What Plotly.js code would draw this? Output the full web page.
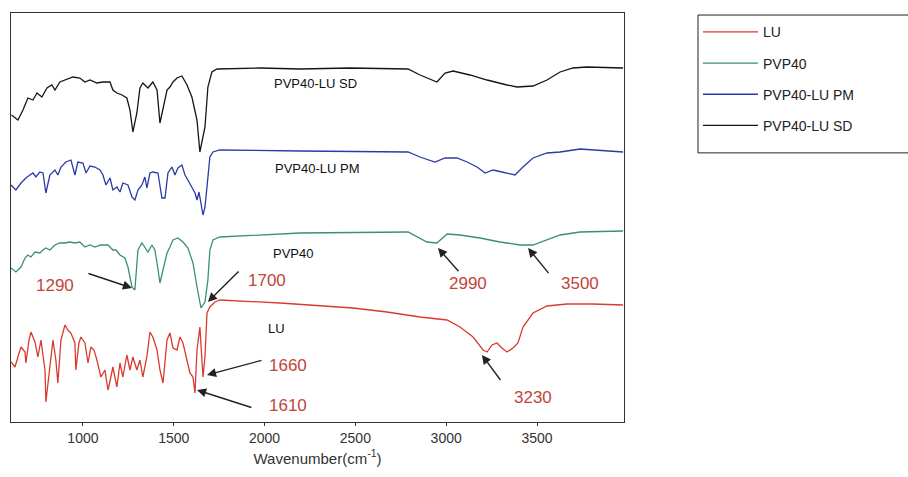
<!DOCTYPE html>
<html>
<head>
<meta charset="utf-8">
<script src="https://cdn.plot.ly/plotly-3.0.1.min.js"></script>
<style>html,body{margin:0;padding:0;background:#fff;}#chart{width:908px;height:477px;}</style>
</head>
<body>
<div id="chart"></div>
<script>
// Wavenumber (cm-1) and offset transmittance (a.u.)
const luX = [604,626,642,659,681,686,703,714,736,752,769,791,796,818,835,851,862,879,901,917,934,956,961,978,989,1011,1028,1044,1061,1077,1099,1121,1138,1154,1165,1187,1204,1220,1242,1259,1275,1297,1314,1330,1352,1369,1385,1408,1424,1441,1463,1479,1496,1518,1534,1551,1573,1589,1606,1617,1628,1644,1661,1672,1683,1699,1727,1754,2085,2305,2487,2674,2856,3005,3076,3148,3203,3225,3252,3280,3307,3335,3368,3395,3423,3478,3555,3665,3808,3974];
const luY = [60,55,65,75,70,59,82,90,80,65,82,52,20,52,82,62,39,82,97,92,89,79,52,79,85,79,59,75,72,62,45,52,32,45,55,35,59,45,67,52,65,52,62,45,65,90,85,72,52,39,82,89,74,72,85,79,62,49,45,29,72,95,45,65,109,115,120,122,119,116,114,110,105,102,95,85,72,70,77,79,74,70,74,79,95,109,116,118,118,117];

const pvpX = [604,631,659,681,697,714,736,763,780,796,818,846,873,901,928,956,983,1011,1039,1066,1099,1138,1165,1182,1204,1231,1248,1270,1286,1303,1325,1341,1358,1380,1396,1408,1424,1441,1463,1479,1496,1523,1551,1578,1606,1628,1650,1672,1688,1699,1716,1754,2195,2790,2839,2894,2949,2977,3005,3076,3186,3296,3407,3478,3555,3627,3737,3974];
const pvpY = [154,150,155,164,167,165,170,169,172,174,172,177,179,179,180,179,180,175,177,175,177,177,172,172,167,164,155,135,132,172,179,175,170,177,172,159,139,152,169,175,182,184,180,174,159,135,114,120,142,172,182,185,189,190,185,180,179,184,188,187,184,180,177,177,182,187,190,191];

const pmX = [604,631,659,686,708,725,741,763,780,796,818,846,862,879,906,934,956,972,1000,1017,1039,1066,1094,1110,1127,1149,1165,1187,1204,1220,1248,1270,1286,1303,1325,1341,1352,1369,1385,1413,1435,1452,1468,1490,1507,1523,1545,1562,1578,1600,1617,1628,1639,1661,1672,1683,1699,1716,1754,2195,2790,2856,2938,2994,3060,3115,3170,3214,3258,3307,3379,3423,3478,3555,3627,3737,3974];
const pmY = [237,232,239,244,247,249,245,250,249,229,247,252,247,255,260,262,247,260,259,249,256,255,252,247,237,244,232,235,230,239,237,225,222,232,237,245,234,249,250,249,224,224,249,255,247,254,257,247,242,235,229,222,230,207,215,235,265,270,272,271,270,265,260,264,264,260,255,249,252,250,247,255,264,269,270,273,270];

const sdX = [607,642,670,697,725,747,774,802,829,846,873,912,945,983,1011,1039,1077,1110,1149,1165,1187,1215,1242,1259,1275,1297,1314,1330,1358,1385,1408,1424,1441,1463,1479,1496,1518,1545,1573,1600,1628,1644,1672,1688,1710,1738,1975,2195,2470,2790,2856,2949,2994,3038,3131,3225,3335,3390,3478,3555,3627,3698,3775,3974];
const sdY = [307,302,312,324,322,329,325,334,337,332,340,343,345,344,340,342,339,340,340,332,329,327,324,312,290,309,334,339,334,340,332,299,312,332,335,340,344,346,337,325,302,270,295,335,350,353,354,353,354,353,347,340,349,351,347,342,337,335,336,342,350,354,355,354];

const seriesNames = ['LU','PVP40','PVP40-LU PM','PVP40-LU SD'];
const seriesColors = ['#d93a2e','#3a8f74','#2b3aa8','#151515'];
const xTicks = [1000,1500,2000,2500,3000,3500];

// Peak labels: text, arrow head, arrow tail, label position
const peakText = ['1290','1700','1660','1610','2990','3500','3230'];
const peakHeadX = [1270,1688,1683,1628,2955,3451,3197];
const peakHeadY = [134,120,47,32,174,174,67];
const peakTailX = [1022,1865,1991,1936,3076,3572,3307];
const peakTailY = [149,152,62,14,149,147,40];
const peakLabelX = [846,2013,2129,2129,3120,3737,3478];
const peakLabelY = [137,142,57,17,139,139,25];

const nameLabelText = ['PVP40-LU SD','PVP40-LU PM','PVP40','LU'];
const nameLabelX = [2283,2289,2156,2068];
const nameLabelY = [339,254,169,94];

const xs = [luX,pvpX,pmX,sdX], ys = [luY,pvpY,pmY,sdY];
const traces = xs.map((x,i)=>({
  x:x, y:ys[i], type:'scatter', mode:'lines', name:seriesNames[i],
  legendgroup:'g'+i,
  line:{color:seriesColors[i], width:1.3}
}));

const annotations = [];
peakText.forEach((t,i)=>{
  annotations.push({x:peakHeadX[i], y:peakHeadY[i], xref:'x', yref:'y',
    ax:peakTailX[i], ay:peakTailY[i], axref:'x', ayref:'y',
    text:' ', font:{size:1}, showarrow:true, arrowhead:2, arrowsize:1.3, arrowwidth:1.4, arrowcolor:'#222'});
  annotations.push({x:peakLabelX[i], y:peakLabelY[i], xref:'x', yref:'y', text:t, showarrow:false,
    font:{family:'Arial, Liberation Sans, sans-serif', size:17, color:'#c0463a'}});
});
nameLabelText.forEach((t,i)=>{
  annotations.push({x:nameLabelX[i], y:nameLabelY[i], xref:'x', yref:'y', text:t, showarrow:false,
    font:{family:'Arial, Liberation Sans, sans-serif', size:13, color:'#111'}});
});

const layout = {
  width:908, height:477,
  margin:{l:11, r:284, t:13, b:55},
  paper_bgcolor:'#fff', plot_bgcolor:'#fff',
  font:{family:'Arial, Liberation Sans, sans-serif', color:'#222'},
  showlegend:true,
  legend:{x:1.1207, y:0.992, xanchor:'left', yanchor:'top', borderwidth:0,
    bgcolor:'rgba(0,0,0,0)', font:{size:14, color:'#222'}, traceorder:'grouped', tracegroupgap:10, itemwidth:55},
  shapes:[{type:'rect', xref:'paper', yref:'paper', x0:1.1207, x1:1.47, y0:0.658, y1:0.995,
    line:{color:'#222', width:1}, fillcolor:'rgba(0,0,0,0)', layer:'below'}],
  xaxis:{range:[604,3979], tickvals:xTicks, ticks:'outside', ticklen:3, tickcolor:'#333',
    showline:true, mirror:true, linecolor:'#333', linewidth:1, showgrid:false, zeroline:false,
    tickfont:{size:14, color:'#333'},
    title:{text:'Wavenumber(cm<sup>-1</sup>)', font:{size:15, color:'#333'}, standoff:8}},
  yaxis:{range:[0,409], showticklabels:false, ticks:'', showline:true, mirror:true, linecolor:'#333',
    linewidth:1, showgrid:false, zeroline:false},
  annotations:annotations
};
Plotly.newPlot('chart', traces, layout, {displayModeBar:false, staticPlot:true});
</script>
</body>
</html>
